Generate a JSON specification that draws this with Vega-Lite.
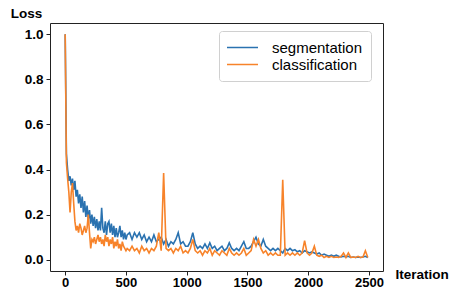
{
  "$schema": "https://vega.github.io/schema/vega-lite/v6.json",
  "autosize": {"type": "none"},
  "width": 333,
  "height": 248,
  "padding": {"left": 50, "top": 23, "right": 67, "bottom": 19},
  "background": "white",
  "config": {
    "font": "Liberation Sans",
    "view": {"stroke": "#222", "strokeWidth": 1},
    "axis": {"grid": false, "domain": false, "tickColor": "#222", "tickSize": 4, "labelFont": "Liberation Sans", "labelFontWeight": "bold", "labelFontSize": 13.5, "labelColor": "#000", "titleFont": "Liberation Sans", "titleFontWeight": "bold", "titleFontSize": 13.5, "titleColor": "#000"}
  },
  "data": {"values": [
    {"i":0,"segmentation":1.0,"classification":1.0},
    {"i":10,"segmentation":0.47,"classification":0.43},
    {"i":20,"segmentation":0.40,"classification":0.36},
    {"i":30,"segmentation":0.35,"classification":0.30},
    {"i":40,"segmentation":0.37,"classification":0.21},
    {"i":50,"segmentation":0.33,"classification":0.30},
    {"i":60,"segmentation":0.36,"classification":0.34},
    {"i":70,"segmentation":0.31,"classification":0.25},
    {"i":80,"segmentation":0.35,"classification":0.17},
    {"i":90,"segmentation":0.28,"classification":0.13},
    {"i":100,"segmentation":0.31,"classification":0.15},
    {"i":110,"segmentation":0.25,"classification":0.12},
    {"i":120,"segmentation":0.29,"classification":0.16},
    {"i":130,"segmentation":0.23,"classification":0.14},
    {"i":140,"segmentation":0.28,"classification":0.11},
    {"i":150,"segmentation":0.21,"classification":0.13},
    {"i":160,"segmentation":0.26,"classification":0.15},
    {"i":170,"segmentation":0.19,"classification":0.12},
    {"i":180,"segmentation":0.24,"classification":0.14},
    {"i":190,"segmentation":0.18,"classification":0.20},
    {"i":200,"segmentation":0.22,"classification":0.12},
    {"i":210,"segmentation":0.16,"classification":0.05},
    {"i":220,"segmentation":0.20,"classification":0.09},
    {"i":230,"segmentation":0.15,"classification":0.08},
    {"i":240,"segmentation":0.19,"classification":0.10},
    {"i":250,"segmentation":0.14,"classification":0.07},
    {"i":260,"segmentation":0.18,"classification":0.09},
    {"i":270,"segmentation":0.13,"classification":0.11},
    {"i":280,"segmentation":0.17,"classification":0.08},
    {"i":290,"segmentation":0.13,"classification":0.10},
    {"i":300,"segmentation":0.23,"classification":0.07},
    {"i":310,"segmentation":0.14,"classification":0.09},
    {"i":320,"segmentation":0.12,"classification":0.06},
    {"i":330,"segmentation":0.17,"classification":0.11},
    {"i":340,"segmentation":0.11,"classification":0.08},
    {"i":350,"segmentation":0.16,"classification":0.10},
    {"i":360,"segmentation":0.17,"classification":0.06},
    {"i":370,"segmentation":0.12,"classification":0.09},
    {"i":380,"segmentation":0.16,"classification":0.07},
    {"i":390,"segmentation":0.11,"classification":0.10},
    {"i":400,"segmentation":0.15,"classification":0.05},
    {"i":410,"segmentation":0.10,"classification":0.08},
    {"i":420,"segmentation":0.14,"classification":0.06},
    {"i":430,"segmentation":0.10,"classification":0.09},
    {"i":440,"segmentation":0.12,"classification":0.05},
    {"i":450,"segmentation":0.15,"classification":0.07},
    {"i":460,"segmentation":0.10,"classification":0.04},
    {"i":470,"segmentation":0.13,"classification":0.08},
    {"i":480,"segmentation":0.09,"classification":0.06},
    {"i":490,"segmentation":0.12,"classification":0.05},
    {"i":500,"segmentation":0.09,"classification":0.04},
    {"i":510,"segmentation":0.11,"classification":0.05},
    {"i":530,"segmentation":0.12,"classification":0.04},
    {"i":550,"segmentation":0.09,"classification":0.06},
    {"i":570,"segmentation":0.12,"classification":0.04},
    {"i":590,"segmentation":0.10,"classification":0.05},
    {"i":610,"segmentation":0.12,"classification":0.03},
    {"i":630,"segmentation":0.09,"classification":0.06},
    {"i":650,"segmentation":0.11,"classification":0.04},
    {"i":670,"segmentation":0.08,"classification":0.05},
    {"i":690,"segmentation":0.10,"classification":0.03},
    {"i":710,"segmentation":0.08,"classification":0.05},
    {"i":730,"segmentation":0.11,"classification":0.04},
    {"i":750,"segmentation":0.08,"classification":0.06},
    {"i":770,"segmentation":0.09,"classification":0.12},
    {"i":790,"segmentation":0.10,"classification":0.04},
    {"i":810,"segmentation":0.07,"classification":0.385},
    {"i":830,"segmentation":0.09,"classification":0.05},
    {"i":850,"segmentation":0.06,"classification":0.04},
    {"i":870,"segmentation":0.08,"classification":0.05},
    {"i":890,"segmentation":0.07,"classification":0.03},
    {"i":910,"segmentation":0.09,"classification":0.05},
    {"i":930,"segmentation":0.12,"classification":0.04},
    {"i":950,"segmentation":0.07,"classification":0.06},
    {"i":970,"segmentation":0.08,"classification":0.03},
    {"i":990,"segmentation":0.06,"classification":0.04},
    {"i":1010,"segmentation":0.06,"classification":0.03},
    {"i":1030,"segmentation":0.08,"classification":0.05},
    {"i":1050,"segmentation":0.12,"classification":0.09},
    {"i":1070,"segmentation":0.07,"classification":0.04},
    {"i":1090,"segmentation":0.05,"classification":0.03},
    {"i":1110,"segmentation":0.06,"classification":0.04},
    {"i":1130,"segmentation":0.05,"classification":0.02},
    {"i":1150,"segmentation":0.07,"classification":0.04},
    {"i":1170,"segmentation":0.05,"classification":0.03},
    {"i":1190,"segmentation":0.075,"classification":0.05},
    {"i":1210,"segmentation":0.05,"classification":0.02},
    {"i":1230,"segmentation":0.06,"classification":0.04},
    {"i":1250,"segmentation":0.04,"classification":0.03},
    {"i":1270,"segmentation":0.05,"classification":0.02},
    {"i":1290,"segmentation":0.06,"classification":0.04},
    {"i":1310,"segmentation":0.04,"classification":0.03},
    {"i":1330,"segmentation":0.05,"classification":0.02},
    {"i":1350,"segmentation":0.075,"classification":0.05},
    {"i":1370,"segmentation":0.05,"classification":0.03},
    {"i":1390,"segmentation":0.04,"classification":0.02},
    {"i":1410,"segmentation":0.05,"classification":0.03},
    {"i":1430,"segmentation":0.04,"classification":0.02},
    {"i":1450,"segmentation":0.06,"classification":0.03},
    {"i":1470,"segmentation":0.08,"classification":0.05},
    {"i":1490,"segmentation":0.05,"classification":0.02},
    {"i":1510,"segmentation":0.05,"classification":0.03},
    {"i":1530,"segmentation":0.06,"classification":0.04},
    {"i":1550,"segmentation":0.08,"classification":0.09},
    {"i":1570,"segmentation":0.10,"classification":0.06},
    {"i":1590,"segmentation":0.07,"classification":0.09},
    {"i":1610,"segmentation":0.06,"classification":0.05},
    {"i":1630,"segmentation":0.09,"classification":0.03},
    {"i":1650,"segmentation":0.06,"classification":0.04},
    {"i":1670,"segmentation":0.05,"classification":0.02},
    {"i":1690,"segmentation":0.04,"classification":0.03},
    {"i":1710,"segmentation":0.05,"classification":0.02},
    {"i":1730,"segmentation":0.04,"classification":0.03},
    {"i":1750,"segmentation":0.05,"classification":0.02},
    {"i":1770,"segmentation":0.04,"classification":0.02},
    {"i":1790,"segmentation":0.03,"classification":0.355},
    {"i":1810,"segmentation":0.05,"classification":0.02},
    {"i":1830,"segmentation":0.04,"classification":0.03},
    {"i":1850,"segmentation":0.05,"classification":0.02},
    {"i":1870,"segmentation":0.04,"classification":0.03},
    {"i":1890,"segmentation":0.045,"classification":0.02},
    {"i":1910,"segmentation":0.035,"classification":0.03},
    {"i":1930,"segmentation":0.04,"classification":0.02},
    {"i":1950,"segmentation":0.03,"classification":0.03},
    {"i":1970,"segmentation":0.04,"classification":0.085},
    {"i":1990,"segmentation":0.035,"classification":0.03},
    {"i":2010,"segmentation":0.03,"classification":0.02},
    {"i":2030,"segmentation":0.035,"classification":0.03},
    {"i":2050,"segmentation":0.03,"classification":0.06},
    {"i":2070,"segmentation":0.025,"classification":0.02},
    {"i":2090,"segmentation":0.03,"classification":0.015},
    {"i":2110,"segmentation":0.02,"classification":0.02},
    {"i":2130,"segmentation":0.025,"classification":0.01},
    {"i":2150,"segmentation":0.02,"classification":0.015},
    {"i":2170,"segmentation":0.015,"classification":0.01},
    {"i":2190,"segmentation":0.02,"classification":0.015},
    {"i":2210,"segmentation":0.015,"classification":0.01},
    {"i":2230,"segmentation":0.02,"classification":0.012},
    {"i":2250,"segmentation":0.015,"classification":0.01},
    {"i":2270,"segmentation":0.012,"classification":0.015},
    {"i":2290,"segmentation":0.015,"classification":0.03},
    {"i":2310,"segmentation":0.012,"classification":0.01},
    {"i":2330,"segmentation":0.015,"classification":0.03},
    {"i":2350,"segmentation":0.01,"classification":0.01},
    {"i":2370,"segmentation":0.012,"classification":0.012},
    {"i":2390,"segmentation":0.01,"classification":0.01},
    {"i":2410,"segmentation":0.012,"classification":0.015},
    {"i":2430,"segmentation":0.01,"classification":0.01},
    {"i":2450,"segmentation":0.012,"classification":0.012},
    {"i":2470,"segmentation":0.015,"classification":0.04},
    {"i":2490,"segmentation":0.01,"classification":0.01}
  ]},
  "encoding": {
    "x": {"field": "i", "type": "quantitative", "scale": {"domain": [-125, 2615], "nice": false, "zero": false},
          "axis": {"values": [0, 500, 1000, 1500, 2000, 2500], "format": "d", "labelFontSize": 13, "labelPadding": 1, "title": "Iteration", "titleAngle": 0, "titleAlign": "left", "titleBaseline": "alphabetic", "titleX": 345, "titleY": 7}}
  },
  "layer": [
    {
      "mark": {"type": "line", "strokeWidth": 1.6, "clip": true},
      "encoding": {
        "y": {"field": "segmentation", "type": "quantitative", "scale": {"domain": [-0.05, 1.05], "nice": false, "zero": false},
              "axis": {"values": [0, 0.2, 0.4, 0.6, 0.8, 1.0], "format": ".1f", "labelPadding": 3, "title": "Loss", "titleAngle": 0, "titleAlign": "center", "titleBaseline": "alphabetic", "titleX": -24, "titleY": -6}},
        "color": {"datum": "segmentation", "type": "nominal",
                  "scale": {"domain": ["segmentation", "classification"], "range": ["#2a72b0", "#f7832a"]},
                  "legend": {"title": null, "orient": "none", "legendX": 169, "legendY": 8, "symbolType": "M-2,0L2,0", "symbolSize": 240, "symbolStrokeWidth": 1.5, "symbolOffset": 7, "labelFontSize": 15, "labelFont": "Liberation Sans", "labelColor": "#000", "labelOffset": 21, "padding": 8, "rowPadding": 0, "fillColor": "white", "strokeColor": "#d0d0d0", "cornerRadius": 3}}
      }
    },
    {
      "mark": {"type": "line", "strokeWidth": 1.6, "clip": true},
      "encoding": {
        "y": {"field": "classification", "type": "quantitative"},
        "color": {"datum": "classification", "type": "nominal"}
      }
    }
  ]
}
